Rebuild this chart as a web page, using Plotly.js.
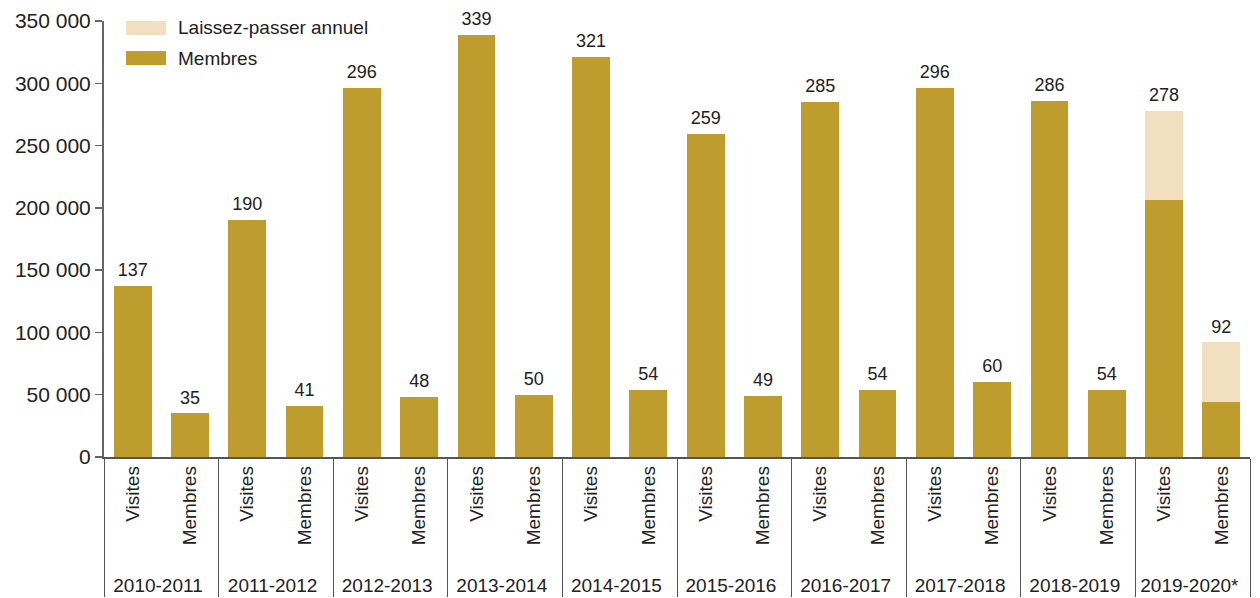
<!DOCTYPE html>
<html>
<head>
<meta charset="utf-8">
<script src="https://cdn.plot.ly/plotly-3.0.1.min.js"></script>
<style>
html,body{margin:0;padding:0;background:#fff;}
#chart{width:1260px;height:598px;}
</style>
</head>
<body>
<div id="chart"></div>
<script>
// ---- Data ----
var seasons = ['2010-2011','2011-2012','2012-2013','2013-2014','2014-2015','2015-2016','2016-2017','2017-2018','2018-2019','2019-2020*'];
var subcats = ['Visites','Membres'];
// Visites bars
var visitesMembres = [137000,190000,296000,339000,321000,259000,285000,296000,286000,206000];
var visitesPass    = [null,null,null,null,null,null,null,null,null,72000];
var visitesLabels  = ['137','190','296','339','321','259','285','296','286','278'];
// Membres bars
var membresMembres = [35000,41000,48000,50000,54000,49000,54000,60000,54000,44000];
var membresPass    = [null,null,null,null,null,null,null,null,null,48000];
var membresLabels  = ['35','41','48','50','54','49','54','60','54','92'];

var seriesNames = ['Membres','Laissez-passer annuel'];
var colors = {membres:'#BF9C2E', pass:'#F2DFBF'};

// ---- Build multicategory arrays ----
// leading non-breaking spaces only pad the rotated label so the season row sits lower
var PAD = '\u00a0\u00a0';
var xOuter = [], xInner = [], yMem = [], yPass = [], yTot = [], txt = [];
for (var i = 0; i < seasons.length; i++) {
  xOuter.push(seasons[i], seasons[i]);
  xInner.push(subcats[0], PAD + subcats[1]);
  yMem.push(visitesMembres[i], membresMembres[i]);
  yPass.push(visitesPass[i], membresPass[i]);
  yTot.push(visitesMembres[i] + (visitesPass[i] || 0), membresMembres[i] + (membresPass[i] || 0));
  txt.push(visitesLabels[i], membresLabels[i]);
}

var FONT = 'Liberation Sans, Arial, sans-serif';

var traces = [
  {type:'bar', name:seriesNames[0], x:[xOuter,xInner], y:yMem,
   marker:{color:colors.membres}, showlegend:false, hoverinfo:'skip'},
  {type:'bar', name:seriesNames[1], x:[xOuter,xInner], y:yPass,
   marker:{color:colors.pass}, showlegend:false, hoverinfo:'skip'},
  {type:'scatter', mode:'markers+text', x:[xOuter,xInner], y:yTot, text:txt,
   marker:{size:7, color:'rgba(0,0,0,0)'},
   textposition:'top center', textfont:{family:FONT, size:18, color:'#222'},
   cliponaxis:false, showlegend:false, hoverinfo:'skip'}
];

// legend drawn in paper coordinates
var shapes = [
  {type:'rect', xref:'paper', yref:'paper', x0:0.0192, x1:0.0541, y0:0.968, y1:1.0,
   fillcolor:colors.pass, line:{width:0}},
  {type:'rect', xref:'paper', yref:'paper', x0:0.0192, x1:0.0541, y0:0.899, y1:0.931,
   fillcolor:colors.membres, line:{width:0}}
];
var annotations = [
  {xref:'paper', yref:'paper', x:0.0628, y:0.984, xanchor:'left', yanchor:'middle',
   text:seriesNames[1], showarrow:false, font:{family:FONT, size:19, color:'#222'}},
  {xref:'paper', yref:'paper', x:0.0628, y:0.915, xanchor:'left', yanchor:'middle',
   text:seriesNames[0], showarrow:false, font:{family:FONT, size:19, color:'#222'}}
];

var layout = {
  width:1260, height:598,
  margin:{l:104, r:10, t:21, b:141},
  paper_bgcolor:'#fff', plot_bgcolor:'#fff',
  barmode:'stack', bargap:0.34,
  separators:', ',
  font:{family:FONT, color:'#222'},
  xaxis:{
    type:'multicategory', range:[-0.5, 19.5], autorange:false,
    showline:true, linecolor:'#555', linewidth:1.5,
    ticks:'', tickangle:-90,
    tickfont:{family:FONT, size:19, color:'#222'},
    showdividers:true, dividercolor:'#555', dividerwidth:1,
    showgrid:false, zeroline:false
  },
  yaxis:{
    range:[0,350000], autorange:false, dtick:50000, tickformat:',d',
    showline:true, linecolor:'#666', linewidth:2,
    ticks:'outside', ticklen:7, tickcolor:'#666', tickwidth:1.5,
    tickfont:{family:FONT, size:21, color:'#222'},
    showgrid:false, zeroline:false, fixedrange:true
  },
  shapes:shapes,
  annotations:annotations,
  showlegend:false
};

Plotly.newPlot('chart', traces, layout, {displayModeBar:false, staticPlot:true});
</script>
</body>
</html>
